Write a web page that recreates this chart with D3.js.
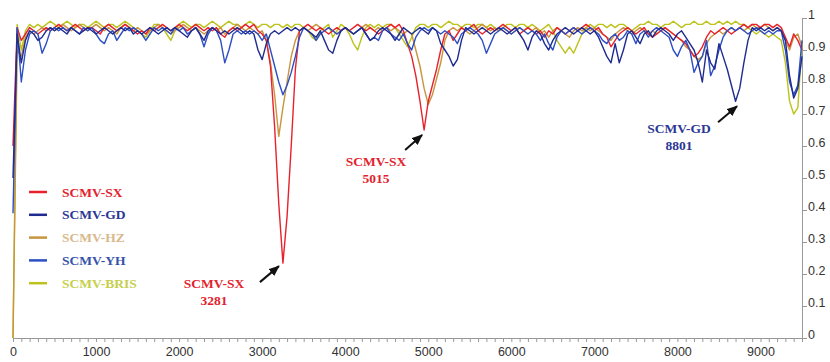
<!DOCTYPE html>
<html>
<head>
<meta charset="utf-8">
<script src="https://cdn.jsdelivr.net/npm/d3@7"></script>
<style>
  body { margin: 0; background: #fff; }
  .axis text { font-family: Arial, "Liberation Sans", sans-serif; font-size: 12.5px; fill: #333; }
  .axis path, .axis line { stroke: #999; }
  .lbl { font-family: "Times New Roman", "Liberation Serif", serif; font-size: 13.5px; font-weight: bold; }
</style>
</head>
<body>
<svg id="chart" width="830" height="362"></svg>
<script>
// window start positions (nt), one value per window for each strain
const positions = d3.range(0, 9501, 50);

const sx = [
  .60,.97,.93,.95,.97,.96,.95,.96,.97,.96, .97,.98,.97,.96,.97,.98,.97,.96,.97,.97,
  .96,.95,.97,.98,.97,.96,.97,.98,.97,.96, .95,.96,.95,.97,.96,.97,.98,.97,.96,.97,
  .98,.97,.96,.97,.98,.97,.96,.97,.96,.97, .95,.94,.96,.97,.96,.97,.98,.97,.98,.96,
  .95,.93,.85,.66,.42,.234,.38,.60,.84,.96, .97,.98,.97,.96,.97,.96,.95,.96,.97,.96,
  .97,.96,.97,.98,.97,.96,.97,.96,.95,.96, .97,.98,.97,.98,.96,.92,.88,.82,.74,.65,
  .74,.79,.84,.90,.95,.96,.93,.95,.97,.96, .97,.98,.96,.95,.96,.97,.96,.97,.98,.97,
  .96,.97,.95,.96,.97,.96,.95,.96,.94,.96, .95,.97,.96,.95,.96,.97,.96,.97,.98,.97,
  .96,.97,.95,.94,.91,.93,.95,.96,.97,.96, .95,.96,.97,.95,.94,.95,.96,.97,.96,.95,
  .94,.93,.92,.90,.88,.89,.91,.94,.96,.95, .96,.97,.96,.95,.96,.97,.98,.97,.98,.98,
  .97,.98,.98,.97,.98,.97,.94,.91,.95,.93, .90
];
const gd = [
  .50,.95,.86,.93,.96,.95,.93,.94,.96,.97, .96,.97,.96,.95,.97,.96,.95,.96,.97,.96,
  .95,.96,.97,.96,.95,.96,.97,.96,.97,.95, .96,.95,.96,.97,.96,.95,.96,.97,.96,.97,
  .96,.95,.94,.96,.97,.95,.93,.96,.97,.96, .95,.96,.95,.96,.97,.96,.95,.96,.95,.90,
  .87,.92,.95,.96,.95,.96,.97,.96,.97,.96, .97,.96,.95,.94,.96,.93,.90,.89,.93,.96,
  .97,.96,.95,.96,.97,.95,.93,.94,.96,.97, .96,.95,.93,.95,.97,.96,.95,.96,.97,.96,
  .95,.97,.96,.92,.90,.88,.85,.87,.93,.97, .96,.95,.96,.97,.96,.95,.96,.97,.96,.95,
  .96,.97,.95,.93,.90,.94,.96,.95,.92,.90, .93,.95,.96,.97,.96,.95,.96,.97,.96,.95,
  .96,.94,.91,.88,.86,.92,.86,.90,.95,.96, .94,.92,.95,.96,.94,.96,.97,.96,.95,.93,
  .95,.96,.94,.92,.90,.86,.80,.90,.86,.84, .92,.88,.84,.79,.74,.78,.86,.93,.97,.96,
  .97,.96,.97,.96,.97,.96,.93,.82,.75,.78, .88
];
const hz = [
  0,.90,.88,.94,.96,.95,.96,.97,.96,.97, .96,.97,.98,.97,.96,.97,.98,.97,.96,.97,
  .98,.97,.96,.97,.96,.95,.97,.98,.97,.96, .97,.96,.95,.96,.97,.98,.97,.96,.95,.96,
  .97,.98,.97,.96,.97,.96,.95,.96,.97,.96, .97,.95,.96,.97,.98,.97,.96,.97,.96,.95,
  .96,.93,.86,.76,.63,.72,.80,.88,.93,.96, .97,.96,.97,.98,.97,.96,.97,.96,.95,.96,
  .97,.96,.95,.96,.97,.98,.97,.96,.97,.96, .97,.96,.97,.96,.95,.96,.95,.90,.85,.78,
  .73,.76,.81,.86,.93,.96,.97,.96,.97,.96, .95,.96,.97,.98,.97,.96,.97,.96,.97,.96,
  .95,.96,.97,.96,.97,.96,.97,.95,.96,.94, .96,.97,.96,.95,.94,.96,.97,.96,.97,.96,
  .97,.96,.95,.94,.93,.95,.96,.97,.96,.95, .96,.97,.96,.95,.96,.95,.96,.97,.96,.95,
  .94,.93,.91,.90,.88,.87,.88,.92,.94,.95, .96,.95,.96,.97,.96,.97,.96,.97,.98,.97,
  .97,.98,.97,.96,.97,.96,.93,.90,.94,.95, .91
];
const yh = [
  .39,.97,.80,.90,.95,.96,.95,.89,.92,.96, .97,.96,.97,.96,.97,.96,.95,.97,.96,.97,
  .95,.93,.92,.95,.96,.93,.95,.97,.96,.97, .96,.95,.93,.95,.97,.96,.97,.96,.95,.97,
  .96,.97,.95,.96,.97,.95,.91,.95,.97,.96, .93,.86,.90,.95,.96,.95,.96,.95,.96,.95,
  .93,.95,.90,.85,.80,.76,.79,.83,.88,.94, .97,.96,.95,.93,.95,.96,.97,.96,.95,.96,
  .97,.96,.95,.96,.97,.95,.93,.94,.93,.96, .97,.95,.94,.93,.95,.92,.90,.94,.96,.97,
  .96,.97,.96,.95,.96,.95,.94,.92,.95,.96, .97,.96,.95,.93,.89,.92,.95,.96,.97,.96,
  .95,.96,.97,.96,.95,.96,.95,.93,.95,.92, .90,.94,.96,.95,.96,.97,.96,.95,.96,.97,
  .96,.95,.93,.92,.94,.95,.93,.94,.96,.95, .92,.95,.96,.94,.96,.97,.96,.95,.94,.90,
  .88,.91,.93,.90,.83,.86,.88,.93,.82,.85, .90,.94,.96,.97,.96,.97,.96,.95,.96,.97,
  .96,.95,.96,.95,.96,.96,.90,.80,.76,.79, .93
];
const bris = [
  0,.98,.90,.96,.98,.97,.98,.97,.98,.99, .98,.97,.98,.99,.98,.97,.98,.98,.97,.98,
  .99,.98,.97,.98,.98,.97,.98,.99,.98,.97, .96,.95,.94,.96,.98,.98,.97,.95,.93,.96,
  .98,.99,.98,.97,.98,.98,.97,.98,.99,.98, .97,.98,.99,.98,.98,.97,.98,.99,.98,.97,
  .98,.98,.97,.98,.98,.97,.98,.97,.98,.98, .97,.96,.94,.93,.96,.97,.98,.94,.96,.98,
  .97,.95,.92,.90,.94,.97,.98,.97,.98,.97, .98,.98,.97,.95,.93,.91,.94,.97,.98,.98,
  .97,.98,.98,.97,.98,.99,.98,.98,.97,.98, .98,.97,.98,.98,.97,.98,.97,.96,.97,.98,
  .98,.97,.98,.98,.97,.98,.97,.96,.97,.98, .96,.93,.91,.89,.91,.89,.92,.95,.97,.98,
  .97,.98,.98,.97,.98,.97,.98,.98,.97,.96, .97,.98,.98,.99,.98,.98,.97,.98,.98,.99,
  .98,.97,.98,.98,.99,.98,.98,.99,.98,.98, .99,.98,.99,.98,.99,.98,.98,.97,.96,.95,
  .96,.95,.94,.95,.94,.93,.86,.74,.70,.72, .92
];

const strainNames = ['SCMV-SX', 'SCMV-GD', 'SCMV-HZ', 'SCMV-YH', 'SCMV-BRIS'];
const strainValues = [sx, gd, hz, yh, bris];
const lineColours = ['#e8212c', '#1f2b8f', '#c8943e', '#2c4fc4', '#bdc31c'];
const textColours = ['#e3222e', '#2b3794', '#d8b98c', '#3552aa', '#c6cf4c'];
const drawOrder = [4, 2, 0, 3, 1];

const xLabelTicks = d3.range(0, 9001, 1000);
const xMinorTicks = d3.range(0, 9501, 100);
const yTicks = d3.range(0, 11).map(d => d / 10);

// callouts: which strain, window to search its minimum in, and the labels
const callouts = [
  { strain: 0, from: 3000, to: 3500, lines: ['SCMV-SX', '3281'], tip: [-4, 3], tail: [-23, 19], text: [-69, 24.5] },
  { strain: 0, from: 4700, to: 5200, lines: ['SCMV-SX', '5015'], tip: [-2, 5], tail: [-19, 20], text: [-48, 35.5] },
  { strain: 1, from: 8400, to: 9000, lines: ['SCMV-GD', '8801'], tip: [1.5, 5], tail: [-17.5, 21], text: [-56.5, 31.5] },
];

const svg = d3.select('#chart');
const margins = { left: 13, right: 28, top: 18, bottom: 24 };
const width = 830, height = 362;

const x = d3.scaleLinear().domain([0, 9500]).range([margins.left, width - margins.right]);
const y = d3.scaleLinear().domain([0, 1]).range([height - margins.bottom, margins.top]);

// x axis: minor ticks every 100, labels on the thousands
const xAxis = d3.axisBottom(x)
  .tickValues(xMinorTicks)
  .tickSize(4)
  .tickSizeOuter(0)
  .tickPadding(5)
  .tickFormat(d => xLabelTicks.includes(d) ? d3.format('d')(d) : '');

svg.append('g')
  .attr('class', 'axis x-axis')
  .attr('transform', `translate(0, ${y(0)})`)
  .call(xAxis);

// y axis on the right
const yAxis = d3.axisRight(y)
  .tickValues(yTicks)
  .tickSize(5)
  .tickSizeOuter(0)
  .tickPadding(1)
  .tickFormat(d => d3.format('~g')(d));

svg.append('g')
  .attr('class', 'axis y-axis')
  .attr('transform', `translate(${x(9500)}, 0)`)
  .call(yAxis)
  .selectAll('text')
  .attr('dy', '0em');

// lines
const line = d3.line()
  .x((d, i) => x(positions[i]))
  .y(d => y(d));

const dataContainer = svg.append('g').attr('class', 'data-container');
drawOrder.forEach(k => {
  dataContainer.append('path')
    .datum(strainValues[k])
    .attr('d', line)
    .style('fill', 'none')
    .style('stroke', lineColours[k])
    .style('stroke-width', 1.4)
    .style('stroke-linejoin', 'round');
});

// legend
const legend = svg.append('g').attr('class', 'legend-container');
strainNames.forEach((name, i) => {
  const rowY = 192 + i * 22.8;
  legend.append('line')
    .attr('x1', 29).attr('x2', 47)
    .attr('y1', rowY).attr('y2', rowY)
    .style('stroke', lineColours[i])
    .style('stroke-width', 2.5);
  legend.append('text')
    .attr('class', 'lbl')
    .attr('x', 62).attr('y', rowY + 4.5)
    .style('fill', textColours[i])
    .text(name);
});

// arrow head
svg.append('defs').append('marker')
  .attr('id', 'head')
  .attr('markerUnits', 'userSpaceOnUse')
  .attr('markerWidth', 11).attr('markerHeight', 9)
  .attr('refX', 10).attr('refY', 4.5)
  .attr('orient', 'auto')
  .append('path')
  .attr('d', 'M0,0 L11,4.5 L0,9 Z')
  .style('fill', '#111');

const notes = svg.append('g').attr('class', 'callouts');
callouts.forEach(c => {
  const vals = strainValues[c.strain];
  let best = -1;
  positions.forEach((p, i) => {
    if (p >= c.from && p <= c.to && (best < 0 || vals[i] < vals[best])) best = i;
  });
  const px = x(positions[best]);
  const py = y(vals[best]);

  notes.append('line')
    .attr('x1', px + c.tail[0]).attr('y1', py + c.tail[1])
    .attr('x2', px + c.tip[0]).attr('y2', py + c.tip[1])
    .style('stroke', '#111')
    .style('stroke-width', 2)
    .attr('marker-end', 'url(#head)');

  c.lines.forEach((t, j) => {
    notes.append('text')
      .attr('class', 'lbl')
      .attr('x', px + c.text[0])
      .attr('y', py + c.text[1] + j * 17)
      .attr('text-anchor', 'middle')
      .style('fill', textColours[c.strain])
      .text(t);
  });
});
</script>
</body>
</html>
